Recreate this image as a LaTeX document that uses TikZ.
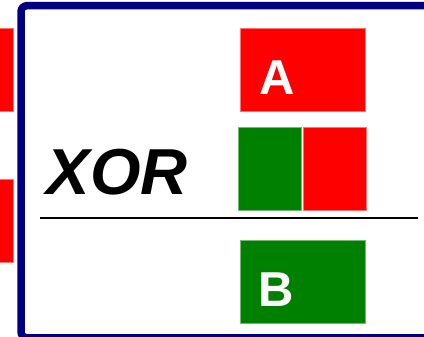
\documentclass[tikz,border=0pt]{standalone}
\usepackage{fontspec}
\setmainfont{Liberation Sans}
\usetikzlibrary{positioning}

\definecolor{framenavy}{RGB}{0,0,128}
\definecolor{cellred}{RGB}{255,0,0}
\definecolor{cellgreen}{RGB}{0,128,0}

\tikzset{
  cell/.style={fill=#1, draw=#1!55!white, line width=0.8pt, inner sep=0pt,
    minimum width=125pt, minimum height=83pt},
  halfcell/.style={cell=#1, minimum width=63pt},
  letter/.style={text=white, font=\bfseries\fontsize{49}{49}\selectfont, inner sep=0pt}
}

\begin{document}
\begin{tikzpicture}[x=1pt,y=-1pt]
  \useasboundingbox (0,0) rectangle (424,337);
  \clip (0,0) rectangle (424,337);

  % frame
  \draw[framenavy, line width=7.5pt, rounded corners=6pt] (21,5.7) rectangle (460,337.8);

  % cells cut off on the left
  \node[cell=cellred, anchor=north east] (leftA) at (13.5,28) {};
  \node[cell=cellred, anchor=north east] (leftB) at (13.5,179.5) {};

  % A, then the mixed row, then B
  \node[cell=cellred, anchor=north west] (boxA) at (240,28.3) {};
  \node[letter, anchor=base west] (labA) at ([shift={(19,66.7)}]boxA.north west) {A};

  \node[halfcell=cellgreen, anchor=north west] (mixG) at (237.5,126.8) {};
  \node[halfcell=cellred, right=1.4pt of mixG] (mixR) {};

  \node[cell=cellgreen, anchor=north west] (boxB) at (240,240) {};
  \node[letter, anchor=base west] (labB) at ([shift={(18.5,66.2)}]boxB.north west) {B};

  \node[font=\bfseries\itshape\fontsize{65}{65}\selectfont, inner sep=0pt, anchor=base west] (op) at (46.5,195) {XOR};

  \coordinate (barL) at (40,218.3);
  \coordinate (barR) at (417.7,218.3);
  \draw[line width=1.6pt] (barL) -- (barR);
\end{tikzpicture}
\end{document}
